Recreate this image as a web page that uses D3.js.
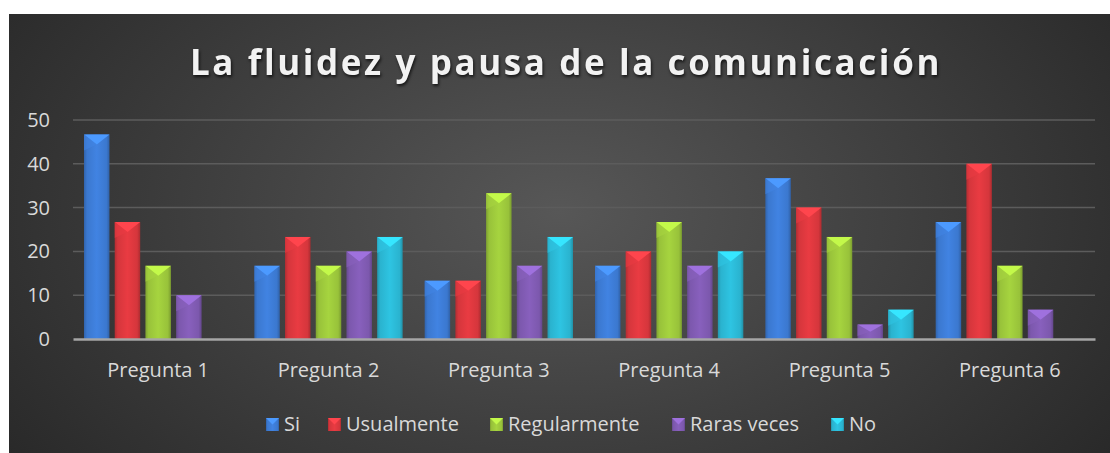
<!DOCTYPE html>
<html>
<head>
<meta charset="utf-8">
<script src="https://cdn.jsdelivr.net/npm/d3@7"></script>
<style>
  html, body { margin: 0; padding: 0; background: #fff; }
  svg { display: block; }
</style>
</head>
<body>
<div id="chart"></div>
<script>
// Data
const categories = ["Pregunta 1", "Pregunta 2", "Pregunta 3", "Pregunta 4", "Pregunta 5", "Pregunta 6"];
const seriesNames = ["Si", "Usualmente", "Regularmente", "Raras veces", "No"];
const si           = [46.7, 16.7, 13.3, 16.7, 36.7, 26.7];
const usualmente   = [26.7, 23.3, 13.3, 20.0, 30.0, 40.0];
const regularmente = [16.7, 16.7, 33.3, 26.7, 23.3, 16.7];
const rarasVeces   = [10.0, 20.0, 16.7, 16.7, 3.3, 6.7];
const no           = [0, 23.3, 23.3, 20.0, 6.7, 0];
const yTicks = [0, 10, 20, 30, 40, 50];
const title = "La fluidez y pausa de la comunicación";

const seriesValues = [si, usualmente, regularmente, rarasVeces, no];
const colors = ["#3b78cf", "#d5363c", "#98c23a", "#7c58ad", "#2ab3cf"];

const W = 1110, H = 453;
const frame = {x: 9, y: 14, w: 1101, h: 439};
const margin = {top: 120, right: 15, bottom: 114, left: 73};
const font = "'Open Sans', sans-serif";

const svg = d3.select("#chart").append("svg").attr("width", W).attr("height", H);
const defs = svg.append("defs");

//Background gradient
const bg = defs.append("radialGradient").attr("id", "bg")
    .attr("cx", "50%").attr("cy", "45%").attr("r", "65%")
    .attr("gradientTransform", "translate(0.5,0.45) scale(1,1.6) translate(-0.5,-0.45)");
bg.append("stop").attr("offset", "0%").attr("stop-color", "#575757");
bg.append("stop").attr("offset", "100%").attr("stop-color", "#262626");

svg.append("rect").attr("x", frame.x).attr("y", frame.y)
    .attr("width", frame.w).attr("height", frame.h).attr("fill", "url(#bg)");

//Bar gradients
colors.forEach((c, i) => {
    const g = defs.append("linearGradient").attr("id", "bar" + i)
        .attr("x1", "0%").attr("x2", "100%").attr("y1", "0%").attr("y2", "0%");
    const base = d3.color(c);
    g.append("stop").attr("offset", "0%").attr("stop-color", base.darker(0.5));
    g.append("stop").attr("offset", "12%").attr("stop-color", base);
    g.append("stop").attr("offset", "50%").attr("stop-color", base.brighter(0.25));
    g.append("stop").attr("offset", "88%").attr("stop-color", base);
    g.append("stop").attr("offset", "100%").attr("stop-color", base.darker(0.6));
});

//Title
svg.append("text")
    .attr("x", 566).attr("y", 75)
    .attr("text-anchor", "middle")
    .attr("font-family", font)
    .attr("font-weight", "700")
    .attr("font-size", "35px")
    .attr("letter-spacing", "2.6px")
    .attr("fill", "#f2f2f2")
    .style("filter", "drop-shadow(1px 2px 1.5px rgba(0,0,0,0.7))")
    .text(title);

const width = W - margin.left - margin.right;
const height = H - margin.top - margin.bottom;
const g = svg.append("g").attr("transform", "translate(" + margin.left + "," + margin.top + ")");

//Scales
const x = d3.scaleBand().domain(categories).range([0, width]);
const y = d3.scaleLinear().domain([0, 50]).range([height, 0]);
const xs = d3.scaleBand().domain(seriesNames).range([11, x.bandwidth() - 11]).paddingInner(0.17);

//Gridlines
g.append("g").selectAll("line").data(yTicks.filter(d => d > 0)).enter().append("line")
    .attr("x1", 0).attr("x2", width)
    .attr("y1", d => y(d)).attr("y2", d => y(d))
    .attr("stroke", "#5c5c5c").attr("stroke-width", 1.5);

//Y axis
const yAxis = d3.axisLeft(y).tickValues(yTicks).tickSize(0).tickPadding(23);
const ya = g.append("g").attr("class", "y-axis").call(yAxis);
ya.select(".domain").remove();
ya.selectAll("text").attr("fill", "#d9d9d9")
    .attr("font-family", font).attr("font-size", "20px");

//Bars
const data = [];
categories.forEach((c, ci) => {
    seriesNames.forEach((s, k) => {
        data.push({cat: c, series: s, si: k, value: seriesValues[k][ci]});
    });
});

const bars = g.append("g").selectAll("g.bar").data(data.filter(d => d.value > 0)).enter()
    .append("g").attr("class", "bar")
    .attr("transform", d => "translate(" + (x(d.cat) + xs(d.series)) + ",0)");

const bw = xs.bandwidth();
bars.append("rect")
    .attr("x", 0).attr("width", bw)
    .attr("y", d => y(d.value)).attr("height", d => height - y(d.value))
    .attr("fill", d => "url(#bar" + d.si + ")");

bars.append("path")
    .attr("d", d => {
        const t = y(d.value);
        const dep = Math.min(10, (height - t) / 2);
        return "M0," + t + "L" + bw + "," + t + "L" + (bw / 2) + "," + (t + dep) + "Z";
    })
    .attr("fill", d => d3.color(colors[d.si]).brighter(0.7));

bars.append("path")
    .attr("d", d => {
        const t = y(d.value);
        const dep = Math.min(10, (height - t) / 2);
        return "M0," + t + "L" + (bw / 2) + "," + (t + dep) + "L0," + (t + dep * 1.6) + "Z";
    })
    .attr("fill", d => d3.color(colors[d.si]).brighter(0.25)).attr("opacity", 0.6);

//X axis
const xAxis = d3.axisBottom(x).tickSize(0).tickPadding(24);
const xa = g.append("g").attr("class", "x-axis").attr("transform", "translate(0," + height + ")").call(xAxis);
xa.select(".domain").attr("stroke", "#a6a6a6").attr("stroke-width", 2.5);
xa.selectAll("text").attr("fill", "#d9d9d9")
    .attr("font-family", font).attr("font-size", "20px");

//Legend
const legendX = [266, 328, 490, 672, 831];
const legend = svg.append("g").selectAll("g").data(seriesNames).enter().append("g")
    .attr("transform", (d, i) => "translate(" + legendX[i] + ",418)");
legend.append("rect").attr("width", 13).attr("height", 13)
    .attr("fill", (d, i) => "url(#bar" + i + ")");
legend.append("path").attr("d", "M0,0L13,0L6.5,6.5Z")
    .attr("fill", (d, i) => d3.color(colors[i]).brighter(0.7));
legend.append("text").attr("x", 18).attr("y", 13)
    .attr("fill", "#d9d9d9")
    .attr("font-family", font).attr("font-size", "20px")
    .text(d => d);
</script>
</body>
</html>
